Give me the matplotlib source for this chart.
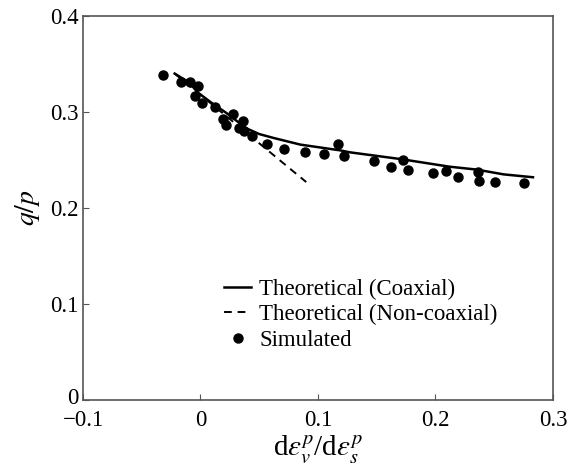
import numpy as np
import matplotlib.pyplot as plt
import matplotlib.transforms as mtransforms

plt.rcParams['font.family'] = ['Liberation Serif', 'DejaVu Serif']
plt.rcParams['mathtext.fontset'] = 'stix'

# simulated points
sim_x = [-0.032, -0.017, -0.009, -0.002, -0.005, 0.001, 0.012, 0.028, 0.019, 0.022,
         0.036, 0.033, 0.037, 0.044, 0.057, 0.071, 0.089, 0.105, 0.117, 0.122,
         0.148, 0.162, 0.172, 0.177, 0.198, 0.209, 0.219, 0.236, 0.237, 0.251, 0.275]
sim_y = [0.338, 0.331, 0.331, 0.327, 0.317, 0.309, 0.305, 0.298, 0.293, 0.286,
         0.291, 0.283, 0.280, 0.275, 0.267, 0.261, 0.258, 0.256, 0.267, 0.254,
         0.249, 0.243, 0.250, 0.240, 0.236, 0.238, 0.232, 0.237, 0.228, 0.227, 0.226]

# theoretical, coaxial
coax_x = [-0.022, -0.010, -0.002, 0.010, 0.022, 0.039, 0.050, 0.062, 0.085, 0.119,
          0.127, 0.170, 0.212, 0.235, 0.258, 0.283]
coax_y = [0.340, 0.331, 0.320, 0.309, 0.299, 0.283, 0.277, 0.273, 0.266, 0.260,
          0.258, 0.251, 0.243, 0.240, 0.235, 0.232]

# theoretical, non-coaxial
ncoax_x = [-0.022, 0.090]
ncoax_y = [0.340, 0.227]

fig = plt.figure(figsize=(5.78, 4.70), dpi=100)
ax = fig.add_axes([0.1436, 0.149, 0.8131, 0.817])

ax.plot(coax_x, coax_y, 'k-', linewidth=1.8, label='Theoretical (Coaxial)')
ax.plot(ncoax_x, ncoax_y, 'k--', linewidth=1.4, dashes=(4, 3), label='Theoretical (Non-coaxial)')
ax.plot(sim_x, sim_y, 'ko', markersize=6.5, linestyle='none', label='Simulated')

ax.set_xlim(-0.1, 0.3)
ax.set_ylim(0, 0.4)
ax.set_xticks([-0.1, 0, 0.1, 0.2, 0.3])
ax.set_xticklabels(['\u22120.1', '0', '0.1', '0.2', '0.3'])
ax.set_yticks([0, 0.1, 0.2, 0.3, 0.4])
ax.set_yticklabels(['0', '0.1', '0.2', '0.3', '0.4'])
ax.tick_params(direction='in', length=4, labelsize=16.5, color='#555555')
ax.tick_params(axis='x', pad=7)
ax.tick_params(axis='y', pad=3)
for s in ax.spines.values():
    s.set_color('#555555')
    s.set_linewidth(1.2)

# nudge the y "0" label up a little so it clears "-0.1"
lab0 = ax.get_yticklabels()[0]
lab0.set_transform(lab0.get_transform() + mtransforms.ScaledTranslation(0, 3 / 72, fig.dpi_scale_trans))

ax.set_xlabel(r'd$\varepsilon_v^p$/d$\varepsilon_s^p$', fontsize=21, labelpad=2)
ax.set_ylabel(r'$q/p$', fontsize=20, labelpad=6)

ax.legend(loc='upper left', bbox_to_anchor=(0.28, 0.34), frameon=False,
          fontsize=16.5, handlelength=1.2, handletextpad=0.35, labelspacing=0.2,
          borderaxespad=0)

fig.savefig('out.png', dpi=100)
